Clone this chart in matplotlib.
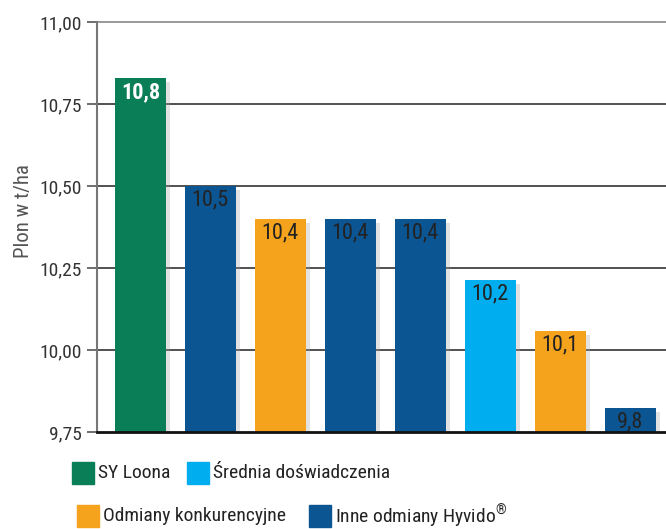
import matplotlib
matplotlib.use("Agg")
import matplotlib.pyplot as plt
import matplotlib.patheffects as pe
from matplotlib.patches import Rectangle
from matplotlib.ticker import FuncFormatter, FixedLocator
from matplotlib import font_manager

# ---------------- data ----------------
values = [10.83, 10.50, 10.40, 10.40, 10.40, 10.213, 10.058, 9.823]
groups = [0, 3, 2, 3, 3, 1, 2, 3]          # index into legend_names / colors
legend_names = ["SY Loona", "Średnia doświadczenia",
                "Odmiany konkurencyjne", "Inne odmiany Hyvido$^{®}$"]
colors = ["#0a7e57", "#00adee", "#f5a31d", "#0b5593"]
y_ticks = [9.75, 10.00, 10.25, 10.50, 10.75, 11.00]
y_label = "Plon w t/ha"

# ---------------- fonts ----------------
avail = {f.name for f in font_manager.fontManager.ttflist}
fams = [f for f in ["Liberation Sans Narrow", "Roboto Condensed", "Liberation Sans", "DejaVu Sans"] if f in avail]
plt.rcParams["font.family"] = fams
plt.rcParams["mathtext.fontset"] = "custom"
plt.rcParams["mathtext.rm"] = fams[0]

fig = plt.figure(figsize=(6.66, 5.29), dpi=100)
ax = fig.add_axes([97/666, (529-432)/529, 1 - 97/666, (432-22)/529])

x = list(range(len(values)))
bar_colors = [colors[g] for g in groups]
shadow = [pe.SimplePatchShadow(offset=(3, -3), shadow_rgbFace="#a0a0a0", alpha=0.3), pe.Normal()]
bars = ax.bar(x, [v - 9.75 for v in values], bottom=9.75, width=0.73,
              color=bar_colors, zorder=3)
for b in bars:
    b.set_path_effects(shadow)

for i, (xi, v) in enumerate(zip(x, values)):
    lab = f"{v:.1f}".replace(".", ",")
    if i == 0:
        ax.annotate(lab, (xi, v), xytext=(0, -2.5), textcoords="offset points",
                    ha="center", va="top", color="white", fontsize=16,
                    fontweight="bold", zorder=5)
    else:
        ax.annotate(lab, (xi, v), xytext=(0, -2.5), textcoords="offset points",
                    ha="center", va="top", color="#222222", fontsize=16, zorder=5)

ax.set_xlim(-0.62, 7.51)
ax.set_ylim(9.75, 11.0)
ax.yaxis.set_major_locator(FixedLocator(y_ticks))
ax.yaxis.set_major_formatter(FuncFormatter(lambda v, p: f"{v:.2f}".replace(".", ",")))
ax.tick_params(axis="y", length=7, width=1.2, color="#555555", pad=4,
               labelsize=14, labelcolor="#333333")
ax.tick_params(axis="x", bottom=False, labelbottom=False)

for t in y_ticks[1:-1]:
    ax.axhline(t, color="#333333", lw=1.2, zorder=1)
ax.axhline(11.0, color="#888888", lw=1.2, zorder=1, clip_on=False)

for s in ["top", "right"]:
    ax.spines[s].set_visible(False)
ax.spines["left"].set_color("#777777")
ax.spines["left"].set_linewidth(1.5)
ax.spines["bottom"].set_color("#111111")
ax.spines["bottom"].set_linewidth(2)
ax.spines["bottom"].set_zorder(4)

ax.set_ylabel(y_label, fontsize=15, color="#555555")
ax.yaxis.set_label_coords(-0.112, 0.54)

# ---------------- legend ----------------
W, H = 666, 529
def legend_item(px, py, color, text):
    fig.patches.append(Rectangle((px / W, 1 - (py + 11) / H), 22 / W, 22 / H,
                                 transform=fig.transFigure, color=color))
    fig.text((px + 26) / W, 1 - py / H, text, fontsize=14, color="#222222",
             va="center", ha="left")

legend_item(72, 473, colors[0], legend_names[0])
legend_item(187, 473, colors[1], legend_names[1])
legend_item(77, 516, colors[2], legend_names[2])
legend_item(309, 516, colors[3], legend_names[3])

fig.savefig("out.png", dpi=100)
